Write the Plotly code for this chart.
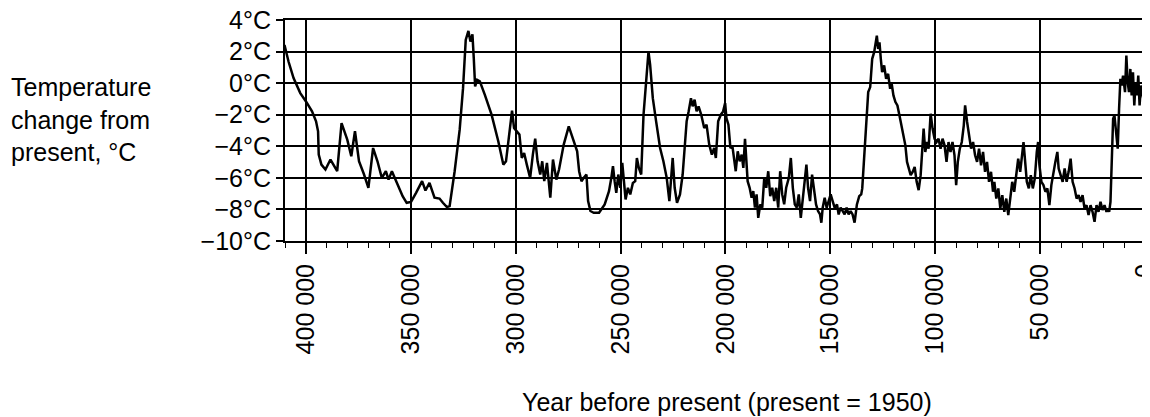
import plotly.graph_objects as go

# Years before present (1950) and temperature change from present (°C)
years = [
    410240, 408320, 405920, 402720, 400000, 397120, 395200, 394240, 393920, 392640,
    390720, 388320, 385120, 383040, 380320, 378400, 376640, 374720, 372320, 370240,
    368000, 365920, 363840, 361920, 360640, 359040, 356320, 353920, 352000, 349920,
    347520, 344640, 343040, 341120, 338720, 336320, 334720, 332800, 331520, 329120,
    326720, 325120, 323840, 322560, 321600, 320640, 320000, 319360, 318400, 317120,
    314720, 311520, 308320, 305920, 304640, 303040, 301760, 300800, 299520, 298240,
    297120, 296000, 294720, 293120, 291840, 290720, 289600, 288320, 287360, 286400,
    285120, 283520, 282240, 280640, 279360, 277120, 274720, 272620, 270720, 269770,
    268660, 267560, 266290, 265500, 264390, 262810, 260280, 257590, 255540, 254430,
    253640, 252850, 252060, 251110, 250160, 249210, 248580, 247630, 246520, 245410,
    244150, 243040, 242250, 241300, 240190, 239080, 237820, 236710, 235920, 234650,
    233070, 231180, 229600, 228020, 226750, 225960, 225170, 224220, 223110, 221690,
    220420, 219470, 218520, 217570, 216460, 215670, 214720, 213770, 212830, 211560,
    210140, 209030, 207760, 206500, 205390, 204600, 203490, 202220, 201120, 200170,
    199550, 198600, 197650, 196690, 195900, 195110, 194170, 193220, 192270, 191490,
    190700, 190060, 189440, 188490, 187540, 186750, 185960, 185170, 184380, 183420,
    182470, 181520, 180560, 179620, 178670, 177720, 176760, 175810, 174860, 173920,
    172960, 172020, 171070, 169800, 168850, 167900, 166960, 166000, 165060, 164100,
    163160, 162210, 161420, 160630, 159680, 158720, 157780, 156830, 155870, 154920,
    154290, 153660, 152710, 151760, 150810, 149860, 148910, 147960, 146840, 146050,
    145110, 144160, 143200, 142250, 141300, 140350, 139410, 138460, 137350, 136240,
    135300, 134800, 133860, 132910, 131960, 131010, 130060, 129110, 128480, 127850,
    127210, 126580, 125950, 125320, 124360, 123420, 122460, 121510, 120880, 119930,
    118980, 118030, 117080, 116130, 115190, 114240, 113450, 112660, 111710, 110760,
    109810, 108860, 107910, 106960, 106170, 105540, 104750, 103960, 103170, 102210,
    101270, 100320, 99370, 98420, 97470, 96520, 95570, 94620, 93670, 92720,
    91780, 90820, 90030, 89240, 88290, 87340, 86390, 85760, 84810, 83860,
    82910, 81960, 81010, 80060, 79110, 78160, 77210, 76260, 75310, 74360,
    73410, 72460, 71830, 70880, 69930, 68980, 68030, 67080, 66130, 65180,
    64250, 63300, 62350, 61410, 60450, 59500, 58550, 57920, 57130, 56340,
    55390, 54440, 53490, 52540, 51590, 50960, 50330, 49380, 48430, 47480,
    46540, 45590, 44640, 43690, 42740, 41790, 41160, 40210, 39260, 38310,
    37360, 36410, 35460, 34510, 33560, 32610, 31660, 30720, 29770, 28820,
    27870, 26910, 25960, 25010, 24060, 23110, 22160, 21210, 20260, 19310,
    18360, 17730, 17090, 16460, 15830, 15200, 14570, 13940, 13000, 12360,
    11730, 11100, 10470, 9520, 8890, 8260, 7630, 6990, 6360, 5730,
    5100, 4470, 3840, 3210, 2580, 1950, 1470, 500,
]
temps = [
    2.42, 1.37, 0.32, -0.63, -1.16, -1.79, -2.42, -3.05, -4.53, -5.16,
    -5.47, -4.84, -5.58, -2.53, -3.58, -4.63, -3.05, -4.95, -5.79, -6.63,
    -4.11, -4.95, -6.0, -5.58, -6.11, -5.58, -6.42, -7.16, -7.58, -7.52,
    -6.95, -6.21, -6.8, -6.32, -7.26, -7.31, -7.58, -7.85, -7.79, -5.58,
    -2.95, -0.32, 2.74, 3.31, 2.63, 3.09, 1.58, -0.21, 0.21, 0.11,
    -0.74, -2.0, -3.68, -5.16, -4.95, -3.05, -1.75, -2.84, -3.05, -3.26,
    -4.74, -4.42, -5.16, -6.0, -4.53, -3.52, -4.95, -5.79, -4.95, -6.21,
    -5.05, -7.26, -4.84, -6.11, -5.47, -3.89, -2.74, -3.58, -4.32, -5.58,
    -6.21, -6.0, -5.79, -7.47, -8.1, -8.21, -8.21, -7.68, -6.84, -6.0,
    -5.26, -6.21, -6.95, -5.79, -6.63, -5.05, -6.21, -7.37, -6.63, -7.05,
    -6.32, -6.21, -4.74, -5.37, -5.79, -2.0, 0.11, 2.0, 1.16, -0.95,
    -2.42, -4.11, -4.95, -6.0, -7.47, -6.21, -4.74, -6.63, -7.58, -7.05,
    -5.79, -4.11, -2.42, -1.79, -0.95, -1.47, -1.05, -1.79, -1.47, -2.0,
    -2.84, -2.63, -3.89, -4.53, -4.11, -4.74, -2.42, -2.0, -1.79, -1.26,
    -2.21, -2.63, -4.11, -4.0, -4.74, -5.58, -4.32, -4.95, -4.53, -5.37,
    -3.52, -4.95, -6.21, -6.63, -7.26, -6.84, -7.89, -7.05, -8.53, -7.68,
    -7.89, -6.0, -6.63, -5.58, -7.16, -6.63, -7.47, -6.63, -7.89, -5.58,
    -7.05, -7.68, -6.63, -6.0, -4.74, -6.63, -7.68, -7.89, -7.05, -8.53,
    -7.47, -6.21, -5.16, -6.63, -7.47, -5.79, -6.84, -7.68, -8.1, -8.32,
    -8.84, -7.89, -7.26, -7.89, -7.47, -7.05, -7.47, -7.89, -7.68, -8.32,
    -7.89, -8.1, -8.32, -7.89, -8.32, -8.1, -8.32, -8.84, -7.68, -7.16,
    -7.05, -6.67, -4.57, -2.46, -0.57, -0.25, 1.54, 1.96, 2.59, 3.01,
    2.17, 2.59, 1.54, 0.69, 1.12, 0.27, 0.59, -0.36, 0.06, -0.78,
    -1.2, -1.41, -2.04, -2.67, -3.31, -3.94, -4.99, -5.41, -5.83, -5.62,
    -5.31, -6.25, -6.78, -5.83, -4.15, -2.88, -4.36, -3.73, -4.15, -1.94,
    -2.88, -3.52, -3.73, -3.52, -4.15, -3.52, -3.94, -4.99, -3.73, -4.36,
    -3.73, -4.57, -6.46, -4.99, -4.15, -3.73, -2.67, -1.41, -2.46, -3.31,
    -4.15, -3.73, -4.57, -4.99, -4.15, -5.2, -4.36, -5.62, -4.99, -6.25,
    -5.62, -6.88, -6.25, -7.31, -6.67, -7.94, -7.09, -8.15, -7.31, -8.36,
    -7.31, -6.25, -6.88, -5.83, -4.78, -5.62, -4.57, -3.73, -4.99, -6.25,
    -6.67, -5.83, -6.67, -6.04, -4.36, -3.73, -5.2, -6.25, -6.46, -6.88,
    -6.67, -7.73, -6.46, -5.62, -4.99, -4.36, -5.41, -5.83, -6.25, -5.41,
    -6.25, -5.62, -4.78, -6.25, -6.67, -7.31, -7.09, -7.52, -7.09, -7.94,
    -7.73, -8.36, -7.73, -8.15, -8.78, -7.73, -8.15, -7.52, -8.04, -7.73,
    -8.15, -7.94, -8.15, -7.52, -4.78, -2.25, -2.04, -2.88, -4.15, -1.62,
    0.27, -0.15, 0.48, -0.57, 1.75, 0.06, -0.57, 0.9, -0.78, 0.69,
    -1.41, 0.06, -0.78, 0.48, -1.41, -0.15, -0.57, -1.2,
]

x_tick_vals = [400000, 350000, 300000, 250000, 200000, 150000, 100000, 50000, 0]
x_tick_text = ["400 000", "350 000", "300 000", "250 000", "200 000",
               "150 000", "100 000", "50 000", "0"]
y_tick_vals = [4, 2, 0, -2, -4, -6, -8, -10]
y_tick_text = ["4°C", "2°C", "0°C", "−2°C", "−4°C", "−6°C", "−8°C", "−10°C"]

y_title = "Temperature<br>change from<br>present, °C"
x_title = "Year before present (present = 1950)"

FONT = "Liberation Sans, Arial, sans-serif"

fig = go.Figure()
fig.add_trace(go.Scatter(
    x=years, y=temps, mode="lines",
    line=dict(color="black", width=2.5),
    showlegend=False, hoverinfo="skip",
))

# The page adds an 8px body margin, so the figure is 8px smaller and shifted.
fig.update_layout(
    width=1142, height=409,
    margin=dict(l=277, r=5, t=12, b=176, autoexpand=False),
    paper_bgcolor="white", plot_bgcolor="white",
    font=dict(family=FONT, size=25, color="black"),
    xaxis=dict(
        range=[410000, 0], automargin=False, ticklabeloverflow="allow",
        tickmode="array", tickvals=x_tick_vals, ticktext=x_tick_text,
        tickangle=-90,
        ticks="outside", ticklen=11, tickwidth=1.5, tickcolor="black",
        minor=dict(dtick=10000, ticks="outside", ticklen=5, tickwidth=1.2,
                   tickcolor="black", showgrid=False),
        showgrid=True, gridcolor="black", gridwidth=2,
        showline=True, linecolor="black", linewidth=2, mirror=True,
        zeroline=False,
        tickfont=dict(family=FONT, size=25, color="black"),
    ),
    yaxis=dict(
        range=[-10, 4], automargin=False, ticklabeloverflow="allow",
        tickmode="array", tickvals=y_tick_vals, ticktext=y_tick_text,
        ticks="outside", ticklen=7, tickwidth=1.5, tickcolor="black",
        showgrid=True, gridcolor="black", gridwidth=2,
        showline=True, linecolor="black", linewidth=2, mirror=True,
        zeroline=False,
        tickfont=dict(family=FONT, size=25, color="black"),
    ),
    annotations=[
        dict(text=y_title, xref="paper", yref="paper",
             x=(9 - 285) / 860, y=1 - (120 - 20) / 221,
             xanchor="left", yanchor="middle", align="left", showarrow=False,
             font=dict(family=FONT, size=25, color="black")),
        dict(text=x_title, xref="paper", yref="paper",
             x=(727 - 285) / 860, y=(241 - 402) / 221,
             xanchor="center", yanchor="middle", showarrow=False,
             font=dict(family=FONT, size=25, color="black")),
    ],
)

fig.write_html("out.html")
